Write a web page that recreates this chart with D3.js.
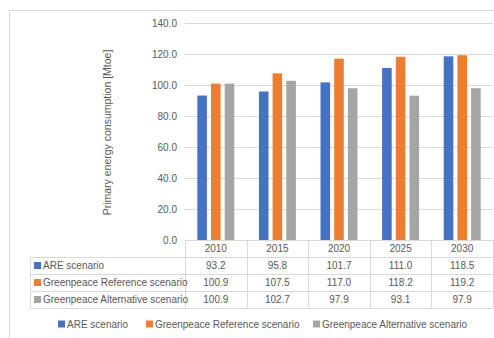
<!DOCTYPE html>
<html>
<head>
<meta charset="utf-8">
<script src="https://cdn.jsdelivr.net/npm/d3@7"></script>
<style>
  body { margin: 0; background: #fff; }
  text { font-family: "Liberation Sans", Arial, sans-serif; fill: #595959; }
</style>
</head>
<body>
<div id="chart"></div>
<script>
const years = ['2010', '2015', '2020', '2025', '2030'];
const seriesNames = ['ARE scenario', 'Greenpeace Reference scenario', 'Greenpeace Alternative scenario'];
const areValues = [93.2, 95.8, 101.7, 111.0, 118.5];
const refValues = [100.9, 107.5, 117.0, 118.2, 119.2];
const altValues = [100.9, 102.7, 97.9, 93.1, 97.9];
const yTicks = [0, 20, 40, 60, 80, 100, 120, 140];
const colors = ['#4472C4', '#ED7D31', '#A5A5A5'];

const seriesValues = [areValues, refValues, altValues];
const W = 494, H = 338;
const plot = {left: 185, right: 493, top: 23, bottom: 240};
const rowH = 17;
const tableLeft = 30;

const svg = d3.select('#chart').append('svg').attr('width', W).attr('height', H);

// outer chart border
svg.append('rect').attr('x', 9.5).attr('y', 10.5).attr('width', 500).attr('height', 400)
    .attr('fill', 'none').attr('stroke', '#D9D9D9');

const x = d3.scaleBand().domain(years).range([plot.left, plot.right]);
const xSub = d3.scaleBand().domain(seriesNames)
    .range([x.bandwidth() * 0.2, x.bandwidth() * 0.8]).paddingInner(0.3);
const y = d3.scaleLinear().domain([0, 140]).range([plot.bottom, plot.top]);

// gridlines + tick labels
const yAxis = d3.axisLeft(y).tickValues(yTicks).tickFormat(d3.format('.1f'))
    .tickSize(-(plot.right - plot.left)).tickPadding(8);
svg.append('g').attr('transform', `translate(${plot.left},0)`).call(yAxis)
    .call(g => g.select('.domain').remove())
    .call(g => g.selectAll('.tick line').attr('stroke', '#D9D9D9'))
    .call(g => g.selectAll('.tick text').attr('font-size', 10).attr('fill', '#595959')
        .attr('font-family', '"Liberation Sans", Arial, sans-serif'));

// axis title
svg.append('text').attr('transform', `translate(111,${(plot.top + plot.bottom) / 2 + 1}) rotate(-90)`)
    .attr('text-anchor', 'middle').attr('font-size', 10.5)
    .text('Primary energy consumption [Mtoe]');

// bars
const data = [];
years.forEach((yr, i) => seriesNames.forEach((s, j) => data.push({year: yr, series: s, idx: j, value: seriesValues[j][i]})));
svg.append('g').selectAll('rect').data(data).join('rect')
    .attr('x', d => x(d.year) + xSub(d.series))
    .attr('y', d => y(d.value))
    .attr('width', xSub.bandwidth())
    .attr('height', d => y(0) - y(d.value))
    .attr('fill', d => colors[d.idx]);

// data table
const table = svg.append('g');
const lineColor = '#D9D9D9';
// horizontal lines
table.append('line').attr('x1', plot.left).attr('x2', plot.right).attr('y1', plot.bottom + 0.5).attr('y2', plot.bottom + 0.5).attr('stroke', lineColor);
for (let r = 1; r <= 4; r++) {
    const yy = plot.bottom + r * rowH + 0.5;
    table.append('line').attr('x1', tableLeft).attr('x2', plot.right).attr('y1', yy).attr('y2', yy).attr('stroke', lineColor);
}
// vertical lines
years.concat(['end']).forEach((yr, i) => {
    const xx = Math.round(plot.left + i * x.step()) + 0.5;
    table.append('line').attr('x1', xx).attr('x2', xx).attr('y1', plot.bottom).attr('y2', plot.bottom + 4 * rowH).attr('stroke', lineColor);
});
table.append('line').attr('x1', tableLeft + 0.5).attr('x2', tableLeft + 0.5)
    .attr('y1', plot.bottom + rowH).attr('y2', plot.bottom + 4 * rowH).attr('stroke', lineColor);

// header years
table.selectAll('.yr').data(years).join('text').attr('class', 'yr')
    .attr('x', d => x(d) + x.bandwidth() / 2).attr('y', plot.bottom + rowH / 2)
    .attr('dy', '0.35em').attr('text-anchor', 'middle').attr('font-size', 10).text(d => d);

// rows
seriesNames.forEach((s, j) => {
    const cy = plot.bottom + (j + 1) * rowH + rowH / 2;
    table.append('rect').attr('x', 34).attr('y', cy - 3.5).attr('width', 7).attr('height', 7).attr('fill', colors[j]);
    table.append('text').attr('x', 43).attr('y', cy).attr('dy', '0.35em').attr('font-size', 10).text(s);
    table.selectAll(`.v${j}`).data(seriesValues[j]).join('text').attr('class', `v${j}`)
        .attr('x', (d, i) => x(years[i]) + x.bandwidth() / 2).attr('y', cy).attr('dy', '0.35em')
        .attr('text-anchor', 'middle').attr('font-size', 10).text(d => d3.format('.1f')(d));
});

// legend
const legendX = [58, 146, 313];
const legend = svg.append('g').selectAll('g').data(seriesNames).join('g')
    .attr('transform', (d, i) => `translate(${legendX[i]},324)`);
legend.append('rect').attr('x', 0).attr('y', -3.5).attr('width', 7).attr('height', 7).attr('fill', (d, i) => colors[i]);
legend.append('text').attr('x', 9).attr('dy', '0.35em').attr('font-size', 10).text(d => d);
</script>
</body>
</html>
